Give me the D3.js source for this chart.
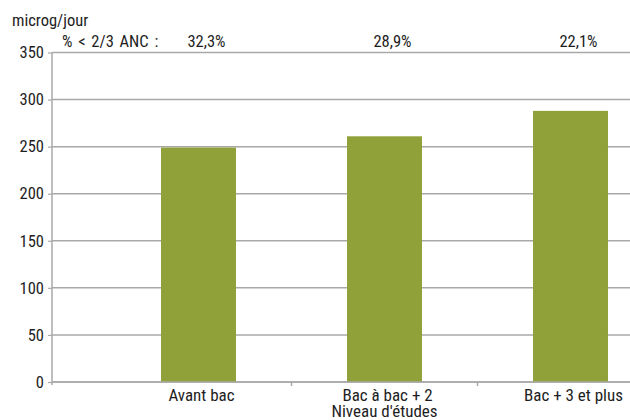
<!DOCTYPE html>
<html><head><meta charset="utf-8">
<script src="https://cdn.jsdelivr.net/npm/d3@7"></script>
<style>
html,body{margin:0;padding:0;background:#fff;}
text{font-family:"Liberation Sans Narrow","Roboto Condensed","Arial Narrow",sans-serif;font-stretch:condensed;fill:#1e1e1e;}
</style></head>
<body><svg id="c" width="630" height="420"></svg>
<script>
const categories = ["Avant bac", "Bac à bac + 2", "Bac + 3 et plus"];
const values = [249, 261, 288];
const pctLabels = ["32,3%", "28,9%", "22,1%"];
const yTicks = [0, 50, 100, 150, 200, 250, 300, 350];
const yUnit = "microg/jour";
const pctTitle = "% < 2/3 ANC :";
const xTitle = "Niveau d'études";

(function () {
const svg = d3.select("#c");
const mLeft = 52, mRight = 630, mTop = 52.5, mBottom = 382;
const y = d3.scaleLinear().domain([0, 350]).range([mBottom, mTop]);
const x = d3.scaleBand().domain(categories).range([105.5, 663.5]).paddingInner(0.597).paddingOuter(0.2985);
const grid = "#a8a8a8";

// gridlines
svg.append("g").selectAll("line").data(yTicks).join("line")
  .attr("x1", mLeft).attr("x2", mRight)
  .attr("y1", d => y(d)).attr("y2", d => y(d))
  .attr("stroke", grid).attr("stroke-width", 1.5);

// y axis
const ya = svg.append("g").attr("transform", `translate(${mLeft},0)`)
  .call(d3.axisLeft(y).tickValues(yTicks).tickSize(4).tickPadding(4));
ya.select(".domain").remove();
ya.selectAll(".tick line").attr("stroke", grid).attr("stroke-width", 1.2);
ya.selectAll(".tick text").attr("font-size", 16.5).attr("font-family", null).attr("fill", "#1e1e1e");
svg.append("line").attr("x1", mLeft).attr("x2", mLeft).attr("y1", mTop).attr("y2", mBottom + 3)
  .attr("stroke", grid).attr("stroke-width", 1.5);

// bars
svg.append("g").selectAll("rect").data(categories).join("rect")
  .attr("x", d => x(d)).attr("width", x.bandwidth())
  .attr("y", (d, i) => y(values[i])).attr("height", (d, i) => y(0) - y(values[i]))
  .attr("fill", "#8fa138");

// x axis line and ticks between categories
svg.append("line").attr("x1", mLeft).attr("x2", mRight).attr("y1", mBottom).attr("y2", mBottom)
  .attr("stroke", grid).attr("stroke-width", 1.5);
const half = x.step() * x.paddingInner() / 2;
svg.append("g").selectAll("line").data(categories).join("line")
  .attr("x1", d => x(d) + x.bandwidth() + half).attr("x2", d => x(d) + x.bandwidth() + half)
  .attr("y1", mBottom).attr("y2", mBottom + 4)
  .attr("stroke", grid).attr("stroke-width", 1.5);

// category labels (axis title as second line under the middle category)
const labs = svg.append("g").selectAll("text").data(categories).join("text")
  .attr("y", 401).attr("text-anchor", "middle").attr("font-size", 17);
labs.append("tspan").attr("x", d => x(d) + x.bandwidth() / 2 + 3).text(d => d);
labs.filter((d, i) => i === 1).append("tspan")
  .attr("x", d => x(d) + x.bandwidth() / 2).attr("dy", 15.5).text(xTitle);

// unit and percentages
svg.append("text").attr("x", 12).attr("y", 26).attr("font-size", 16.5).text(yUnit);
svg.append("text").attr("x", 62).attr("y", 46.5).attr("font-size", 16.5).attr("word-spacing", 2).text(pctTitle);
svg.append("g").selectAll("text").data(categories).join("text")
  .attr("x", d => x(d) + x.bandwidth() / 2 + 8).attr("y", 46.5)
  .attr("text-anchor", "middle").attr("font-size", 16.5).text((d, i) => pctLabels[i]);
})();
</script></body></html>
